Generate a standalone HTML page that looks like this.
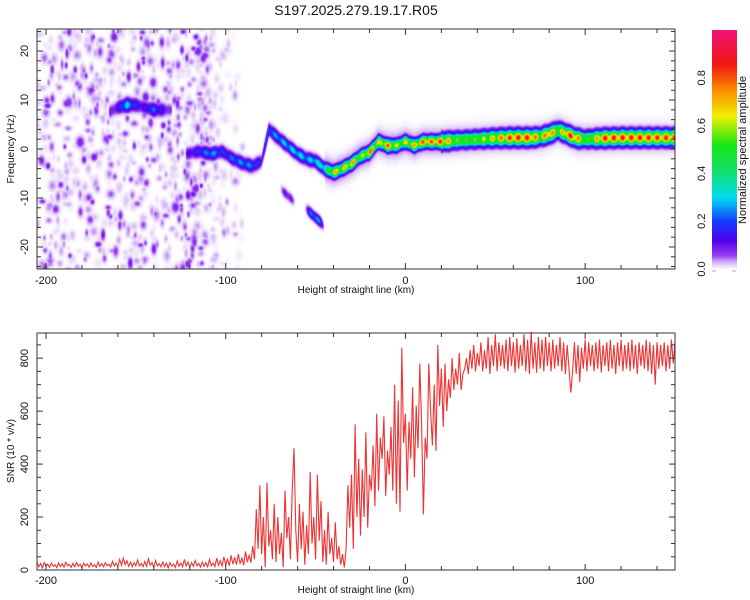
<!DOCTYPE html>
<html><head><meta charset="utf-8">
<style>
body{margin:0;background:#fff;font-family:"Liberation Sans",sans-serif;}
#wrap{position:relative;width:750px;height:600px;overflow:hidden;}
canvas{position:absolute;}
svg{position:absolute;left:0;top:0;}
</style></head><body>
<div id="wrap">
<canvas id="spec" width="638" height="240" style="left:37px;top:29px"></canvas>
<canvas id="cbar" width="25" height="239" style="left:712px;top:30px"></canvas>
<svg id="svg" width="750" height="600"></svg>
</div>
<script>
// ---- data ----
const ridgeHeights = [-122,-115,-108,-102,-96,-90,-85,-80,-76,-70,-65,-60,-55,-50,-45,-40,-35,-30,-25,-20,-15,-10,-5,0,5,10,15,20,30,40,50,60,70,75,80,85,90,95,100,110,120,130,140,150];
const ridgeFreqs   = [-1,-0.5,-1,-0.5,-2,-3,-3.5,-2.5,4,2,0.5,-1,-2,-2.5,-4,-4.8,-4,-3,-1.5,-0.7,1.5,0.7,0.7,1.5,0.7,1.5,1.5,1.5,1.8,2,2.2,2.3,2.3,2.5,3,3.8,3,2.2,2,2.2,2.3,2.3,2.3,2.3];
const ridgeAmps    = [0.12,0.2,0.3,0.2,0.25,0.28,0.26,0.15,0.25,0.3,0.32,0.35,0.3,0.35,0.42,0.75,0.7,0.8,0.6,0.85,0.7,0.85,0.65,0.7,0.75,0.85,0.85,0.88,0.55,0.6,0.75,0.9,0.9,0.7,0.9,0.6,0.9,0.9,0.5,0.9,0.9,0.9,0.88,0.88];
const upperHeights = [-165,-160,-155,-150,-145,-140,-135,-130];
const upperFreqs   = [7.5,8.5,9,9,8.5,8,8,8];
const upperAmps    = [0.08,0.15,0.35,0.18,0.15,0.25,0.15,0.06];
const branchHeights = [-70,-67,-64,-61,-56,-53,-50,-47,-45];
const branchFreqs   = [-8,-9,-10,-11,-12,-13,-14,-15,-16];
const branchAmps    = [0,0.12,0.12,0,0,0.25,0.3,0.25,0];
const snrStart = -205; // km, 1 km step
const snrValues = [
30,12,25,8,28,15,22,10,26,14, 20,9,27,13,24,11,29,16,21,10, 25,12,28,14,22,9,26,15,23,11,
27,13,20,10,30,14,24,12,28,16, 22,11,33,15,26,13,40,18,45,20, 35,14,30,12,28,16,38,15,25,12,
32,14,42,18,28,10,36,15,24,12, 30,13,26,8,28,15,22,10,34,14, 26,12,40,15,30,10,28,14,36,16,
25,11,30,14,28,12,40,16,26,13, 45,18,35,15,50,20,40,16,55,22, 48,20,60,25,45,18,70,30,55,28,
90,40,230,80,320,60,200,10,330,90, 150,40,250,30,200,60,140,10,300,120, 200,40,300,460,150,30,250,80,220,20,
170,60,370,100,200,40,360,110,260,30, 150,20,220,60,120,30,180,40,90,20, 60,10,80,320,160,360,80,550,200,420,
130,380,200,520,160,360,300,470,240,590, 300,500,420,580,280,450,360,540,300,700, 250,640,220,840,480,590,300,560,420,690,
350,620,460,780,550,210,500,420,780,600, 470,700,450,850,620,760,540,780,600,720, 650,800,680,760,700,820,680,740,760,800,
740,830,760,850,750,820,770,860,750,830, 760,880,740,850,770,890,750,860,770,850, 760,870,750,880,770,860,745,875,760,850,
770,890,750,870,740,900,760,860,745,880, 760,870,750,880,770,860,750,870,760,850, 770,880,750,860,740,850,760,670,750,860,
740,850,710,840,760,870,750,860,770,850, 750,860,760,870,745,850,770,860,750,870, 760,850,740,860,770,870,750,850,760,860,
750,870,760,850,740,860,770,850,760,870, 750,860,740,850,700,860,760,850,770,860, 750,850,760,870,780,860];
const xTicks=[-200,-100,0,100];
const fTicks=[-20,-10,0,10,20];
const snrTicks=[0,200,400,600,800];
const cbTicks=[0,0.2,0.4,0.6,0.8];

// ---- scales ----
const X0=37,X1=675,HMIN=-205,HMAX=150;
const xs=h=>X0+(h-HMIN)/(HMAX-HMIN)*(X1-X0);
const T0=29,T1=269,FMAX=24.5;
const yf=f=>T0+(FMAX-f)/(2*FMAX)*(T1-T0);
const B0=333,B1=570,SMAX=895;
const ys=v=>B1-v/SMAX*(B1-B0);

// colormap
const stops=[[0,[255,255,255]],[0.012,[238,226,250]],[0.03,[210,180,245]],[0.06,[150,60,240]],[0.12,[80,0,235]],[0.2,[20,60,255]],[0.3,[0,220,240]],[0.42,[20,225,100]],[0.52,[20,230,20]],[0.64,[240,240,0]],[0.75,[255,140,0]],[0.86,[240,20,20]],[1,[240,20,120]]];
function cmap(v){v=Math.max(0,Math.min(1,v));for(let i=1;i<stops.length;i++){if(v<=stops[i][0]){const a=stops[i-1],b=stops[i];const t=(v-a[0])/(b[0]-a[0]);return a[1].map((c,k)=>Math.round(c+(b[1][k]-c)*t));}}return stops[stops.length-1][1];}
function interp(xsArr,ysArr,x){if(x<xsArr[0]||x>xsArr[xsArr.length-1])return null;for(let i=1;i<xsArr.length;i++){if(x<=xsArr[i]){const t=(x-xsArr[i-1])/(xsArr[i]-xsArr[i-1]);return ysArr[i-1]+(ysArr[i]-ysArr[i-1])*t;}}return ysArr[ysArr.length-1];}
function hash(i){const s=Math.sin(i*12.9898+78.233)*43758.5453;return s-Math.floor(s);}

// noise blobs (background texture)
const blobs=[];
for(let i=0;i<900;i++){
  let h=-205+hash(i)*100; if(hash(i+5000)<0.15) h=-125+hash(i+7000)*35;
  const f=-25+hash(i+1000)*50;
  let a=0.01+hash(i+2000)*hash(i+3000)*0.1;
  if(h>-110) a*=0.5;
  blobs.push([h,f,a,0.9+hash(i+4000)*1.4,0.5+hash(i+6000)*0.7]);
}
// spectrogram
(function(){
  const c=document.getElementById('spec'),ctx=c.getContext('2d');
  const W=c.width,H=c.height,img=ctx.createImageData(W,H);
  for(let px=0;px<W;px++){
    const h=HMIN+(px+0.5)/W*(HMAX-HMIN);
    const rf=interp(ridgeHeights,ridgeFreqs,h),ra=interp(ridgeHeights,ridgeAmps,h);
    const uf=interp(upperHeights,upperFreqs,h),ua=interp(upperHeights,upperAmps,h);
    const bf=interp(branchHeights,branchFreqs,h),ba=interp(branchHeights,branchAmps,h);
    const near=blobs.filter(b=>Math.abs(b[0]-h)<5);
    const mod=0.85+0.15*Math.cos(h*1.3);
    for(let py=0;py<H;py++){
      const f=FMAX-(py+0.5)/H*2*FMAX;
      let v=0;
      if(rf!==null){
        const w=h>20?1.0:0.8;const d=(f-rf)/w;v=Math.max(v,ra*mod*Math.exp(-d*d*0.5));
        if(h>20){const dg=(f-rf)/1.3;v=Math.max(v,0.5*Math.exp(-dg*dg*dg*dg));}
        if(h>-45){const d2=(f-rf)/2.3;v=Math.max(v,0.07*Math.exp(-d2*d2));}}
      if(uf!==null){const d=(f-uf)/1.2;v=Math.max(v,ua*mod*Math.exp(-d*d));}
      if(bf!==null&&ba>0){const d=(f-bf)/0.9;v=Math.max(v,ba*mod*Math.exp(-d*d));}
      for(const b of near){const dx=(h-b[0])/b[3],dy=(f-b[1])/b[4];const g=b[2]*Math.exp(-(dx*dx+dy*dy));if(g>v)v=g;}
      const col=cmap(v),k=(py*W+px)*4;
      img.data[k]=col[0];img.data[k+1]=col[1];img.data[k+2]=col[2];img.data[k+3]=255;
    }
  }
  ctx.putImageData(img,0,0);
})();
// colorbar
(function(){
  const c=document.getElementById('cbar'),ctx=c.getContext('2d');
  for(let y=0;y<c.height;y++){const col=cmap(1-y/c.height);ctx.fillStyle=`rgb(${col})`;ctx.fillRect(0,y,c.width,1);}
})();
// axes
const NS='http://www.w3.org/2000/svg',svg=document.getElementById('svg');
function el(t,a,txt){const e=document.createElementNS(NS,t);for(const k in a)e.setAttribute(k,a[k]);if(txt!==undefined)e.textContent=txt;svg.appendChild(e);return e;}
function frame(y0,y1,name){const r=el('rect',{x:X0,y:y0,width:X1-X0,height:y1-y0,fill:'none',stroke:'#333','stroke-width':1});}
function xAxis(y0,y1,tickLabelY,titleY,pfx){
  for(let h=-200;h<=140;h+=20){const x=xs(h),L=(h%100===0)?6:4;
    el('line',{x1:x,y1:y1,x2:x,y2:y1-L,stroke:'#333'});el('line',{x1:x,y1:y0,x2:x,y2:y0+L,stroke:'#333'});}
  xTicks.forEach(t=>{const e=el('text',{x:xs(t),y:tickLabelY,'font-size':11,'text-anchor':'middle',fill:'#111'},String(t));
    });
  const tt=el('text',{x:356,y:titleY,'font-size':10,'text-anchor':'middle',fill:'#111'},'Height of straight line (km)');
  
}
const title=el('text',{x:356,y:15,'font-size':14,'text-anchor':'middle',fill:'#111'},'S197.2025.279.19.17.R05');

// top
frame(T0,T1,'spectrogram-frame');
xAxis(T0,T1,284,293,'top');
for(let f=-24;f<=24;f+=2){const y=yf(f),L=(f%10===0)?6:4;el('line',{x1:X0,y1:y,x2:X0+L,y2:y,stroke:'#333'});el('line',{x1:X1,y1:y,x2:X1-L,y2:y,stroke:'#333'});}
fTicks.forEach(t=>{const y=yf(t);const e=el('text',{x:0,y:0,'font-size':11,'text-anchor':'middle',fill:'#111',transform:`translate(28,${y}) rotate(-90)`},String(t));
  });
const yt=el('text',{x:0,y:0,'font-size':10,'text-anchor':'middle',fill:'#111',transform:`translate(14,149) rotate(-90)`},'Frequency (Hz)');

// colorbar labels
cbTicks.forEach(t=>{const y=269-t*239;const e=el('text',{x:0,y:0,'font-size':11,'text-anchor':'middle',fill:'#111',transform:`translate(705,${y}) rotate(-90)`},t.toFixed(1));
  });
el('line',{x1:712,y1:271,x2:716,y2:271,stroke:'#aaa'});el('line',{x1:732,y1:271,x2:736,y2:271,stroke:'#aaa'});
const ct=el('text',{x:0,y:0,'font-size':11,'text-anchor':'middle',fill:'#111',transform:`translate(746,150) rotate(-90)`},'Normalized spectral amplitude');

// bottom
const pts=snrValues.map((v,i)=>`${xs(snrStart+i).toFixed(1)},${ys(v).toFixed(1)}`).join(' ');
const line=el('polyline',{points:pts,fill:'none',stroke:'#ee3333','stroke-width':1.1});

frame(B0,B1,'snr-frame');
xAxis(B0,B1,584,593,'bottom');
for(let v=0;v<=850;v+=50){const y=ys(v),L=(v%200===0)?6:4;el('line',{x1:X0,y1:y,x2:X0+L,y2:y,stroke:'#333'});el('line',{x1:X1,y1:y,x2:X1-L,y2:y,stroke:'#333'});}
snrTicks.forEach(t=>{const y=ys(t);const e=el('text',{x:0,y:0,'font-size':11,'text-anchor':'middle',fill:'#111',transform:`translate(28,${y}) rotate(-90)`},String(t));
  });
const st=el('text',{x:0,y:0,'font-size':10,'text-anchor':'middle',fill:'#111',transform:`translate(14,451) rotate(-90)`},'SNR (10 * v/v)');

</script>
</body></html>
